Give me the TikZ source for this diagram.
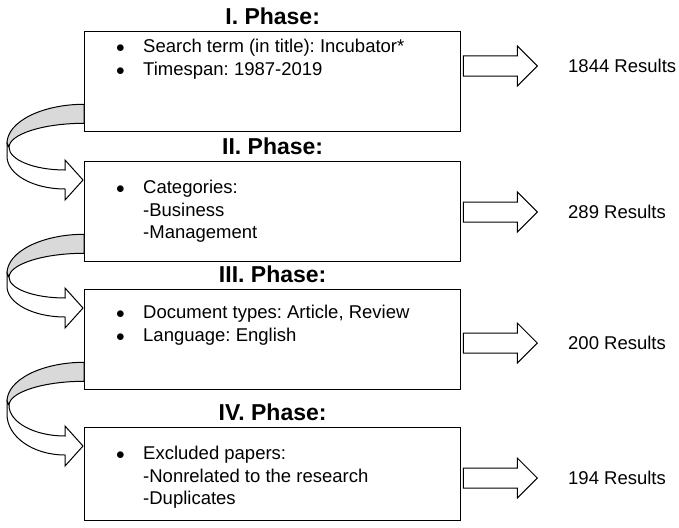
\documentclass[tikz,border=0pt]{standalone}
\usepackage{fontspec}
\setmainfont{Liberation Sans}
\usetikzlibrary{positioning,shapes.arrows,calc}
\frenchspacing

\begin{document}
\begin{tikzpicture}[x=1pt, y=-1pt,
        node distance=6pt and 28pt,
        phasebox/.style={draw, line width=1.3pt, minimum width=376pt, minimum height=100pt, anchor=north west, inner sep=0pt},
        phasetitle/.style={font=\fontsize{23}{27}\selectfont\bfseries, inner sep=0pt},
        itemtext/.style={font=\fontsize{18.5}{22.5}\selectfont, align=left, anchor=north west, inner sep=0pt},
        resulttext/.style={font=\fontsize{18.5}{22.5}\selectfont, anchor=west, inner sep=0pt},
        resultarrow/.style={single arrow, draw, line width=1pt, minimum width=39pt, minimum height=74pt, single arrow head extend=10pt, inner xsep=0pt, inner ysep=9.5pt},
        curlback/.style={draw, line width=1pt, fill=black!15},
        curlfront/.style={draw, line width=1pt, fill=white}]
    \useasboundingbox (0,0) rectangle (679,527);

    % the four phases
    \node[phasebox] (p1) at (84,31) {};
    \node[phasebox] (p2) at (84,161) {};
    \node[phasebox] (p3) at (84,289) {};
    \node[phasebox, minimum height=93pt] (p4) at (84,427) {};

    \node[phasetitle, above=of p1] {I. Phase:};
    \node[phasetitle, above=of p2] {II. Phase:};
    \node[phasetitle, above=of p3] {III. Phase:};
    \node[phasetitle, above=of p4] {IV. Phase:};

    \node[itemtext] at ([xshift=32pt, yshift=-6pt]p1.north west)
        {\strut\makebox[27pt][l]{$\bullet$}Search term (in title): Incubator*\\
         \makebox[27pt][l]{$\bullet$}Timespan: 1987-2019};
    \node[itemtext] at ([xshift=32pt, yshift=-17pt]p2.north west)
        {\strut\makebox[27pt][l]{$\bullet$}Categories:\\
         \hspace*{27pt}-Business\\
         \hspace*{27pt}-Management};
    \node[itemtext] at ([xshift=32pt, yshift=-14pt]p3.north west)
        {\strut\makebox[27pt][l]{$\bullet$}Document types: Article, Review\\
         \makebox[27pt][l]{$\bullet$}Language: English};
    \node[itemtext] at ([xshift=32pt, yshift=-17pt]p4.north west)
        {\strut\makebox[27pt][l]{$\bullet$}Excluded papers:\\
         \hspace*{27pt}-Nonrelated to the research\\
         \hspace*{27pt}-Duplicates};

    % results
    \node[resulttext] (r1) at (568,66) {1844 Results};
    \node[resulttext] (r2) at (568,212) {289 Results};
    \node[resulttext] (r3) at (568,343) {200 Results};
    \node[resulttext] (r4) at (568,478) {194 Results};

    \node[resultarrow, left=30pt of r1] (a1) {};
    \node[resultarrow, left=30pt of r2] (a2) {};
    \node[resultarrow, left=30pt of r3] (a3) {};
    \node[resultarrow, left=30pt of r4] (a4) {};

    % curled arrows from one phase to the next
    \foreach \src/\dst in {p1/p2, p2/p3, p3/p4} {
        \draw[curlback] let \p1=(\src.south west), \p2=(\dst.north west) in
            ({\x1},{\y1+28pt}) .. controls ({\x1-42pt},{\y1+28pt}) and (7pt,{\y1+10.5pt}) .. (7pt,{\y1-11pt})
            -- (9pt,{\y1-15pt})
            .. controls (9pt,{\y1-2pt}) and ({\x1-41pt},{\y1+9pt}) .. ({\x1},{\y1+9pt})
            -- cycle;
        \draw[curlfront] let \p1=(\src.south west), \p2=(\dst.north west) in
            (7pt,{\y1-11pt}) -- (7pt,{\y1-24pt})
            .. controls (7pt,{\y1-24pt-0.55*(\y1-\y2+4pt)}) and (33pt,{\y2-28pt}) .. (65pt,{\y2-28pt})
            -- (65pt,{\y2-39pt}) -- ({\x2-1pt},{\y2-19pt}) -- (65pt,{\y2+1pt}) -- (65pt,{\y2-9pt})
            .. controls (34pt,{\y2-9pt}) and (9pt,{\y1-15pt-0.55*(\y1-\y2-6pt)}) .. (9pt,{\y1-15pt})
            -- cycle;
    }
\end{tikzpicture}
\end{document}
